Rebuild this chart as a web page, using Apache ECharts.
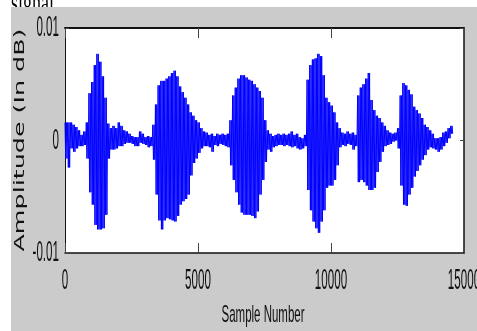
<!DOCTYPE html>
<html>
<head>
<meta charset="utf-8">
<script src="https://cdn.jsdelivr.net/npm/echarts@6/dist/echarts.min.js"></script>
<style>
  html, body { margin: 0; padding: 0; background: #fff; }
  #chart { width: 477px; height: 331px; }
</style>
</head>
<body>
<div id="chart"></div>
<script>
// envelope of the speech signal, every 100 samples (units of 1e-4)
const step = 100;
const upper = [16, 16, 16, 14, 12, 9, 5, 8, 16, 42, 52, 67, 77, 70, 57, 38, 15, 11, 13, 11,
  16, 13, 9, 8, 6, 4, 3, 3, 8, 6, 3, 4, 3, 14, 32, 49, 53, 53, 55, 57,
  60, 62, 57, 48, 43, 38, 32, 25, 22, 18, 16, 11, 8, 7, 5, 6, 4, 6, 5, 6,
  5, 6, 18, 40, 47, 55, 58, 58, 56, 54, 53, 50, 47, 44, 38, 18, 9, 6, 4, 5,
  6, 5, 6, 5, 6, 8, 5, 6, 3, 2, 5, 54, 67, 72, 73, 77, 75, 58, 38, 34,
  31, 25, 16, 11, 7, 6, 8, 6, 7, 5, 40, 47, 50, 55, 60, 36, 27, 22, 20, 16,
  13, 9, 7, 6, 7, 11, 40, 51, 49, 45, 41, 30, 27, 24, 20, 14, 12, 9, 6, 2,
  2, 3, 7, 8, 11, 13];
const lower = [-16, -24, -7, -10, -7, -5, -5, -4, -16, -46, -57, -75, -79, -79, -78, -66, -16, -8, -8, -7,
  -5, -5, -3, -2, -2, -3, -5, -5, -2, -3, -4, -6, -5, -17, -48, -71, -79, -71, -69, -70,
  -71, -72, -67, -57, -54, -52, -48, -31, -20, -16, -11, -7, -5, -5, -6, -10, -4, -5, -3, -4,
  -5, -6, -22, -35, -46, -57, -64, -66, -66, -66, -67, -69, -63, -48, -35, -19, -8, -10, -6, -5,
  -4, -4, -5, -4, -5, -6, -5, -7, -8, -7, -5, -44, -62, -72, -78, -82, -72, -62, -42, -40,
  -40, -35, -22, -6, -4, -5, -3, -4, -8, -5, -37, -35, -37, -40, -44, -44, -42, -28, -19, -10,
  -5, -4, -3, -1, 0, -7, -40, -57, -58, -48, -42, -32, -27, -22, -17, -13, -8, -6, -7, -8,
  -10, -8, -5, -2, 2, 6];

const xTicks = [0, 5000, 10000, 15000];
const yTicks = [-0.01, 0, 0.01];
const yTickText = ['-0.01', '0', '0.01'];

// swing between the two envelope values twice per step so the trace fills in like the original
const wave = [];
upper.forEach((u, i) => {
  const x0 = i * step;
  wave.push([x0, u / 1e4]);
  wave.push([x0 + step / 4, lower[i] / 1e4]);
  wave.push([x0 + step / 2, u / 1e4]);
  wave.push([x0 + 3 * step / 4, lower[i] / 1e4]);
});

const narrow = '"Liberation Sans", "DejaVu Sans Condensed", sans-serif';

const bg = [
  {
    type: 'text', left: 11, top: -10, z: -20, scaleY: 1.6,
    style: { text: 'signal.', font: '18px "Liberation Serif", serif', fill: '#000' }
  },
  {
    type: 'rect', z: -10,
    shape: { x: 11, y: 7, width: 470, height: 330 },
    style: { fill: '#cbcbcb' }
  }
];

const axisCommon = {
  type: 'value',
  axisLabel: { show: false },
  splitLine: { show: false }
};

const option = {
  backgroundColor: '#fff',
  animation: false,
  grid: {
    left: 65, right: 13, top: 28, bottom: 78,
    show: true, backgroundColor: '#fff', borderWidth: 0
  },
  xAxis: [
    {
      ...axisCommon, min: 0, max: 15000, interval: 5000, position: 'bottom',
      axisLine: { show: true, onZero: false, lineStyle: { color: '#111', width: 1.5 } },
      axisTick: { show: true, inside: true, length: 10, lineStyle: { color: '#444' } }
    },
    {
      ...axisCommon, min: 0, max: 15000, interval: 5000, position: 'top',
      axisLine: { show: true, onZero: false, lineStyle: { color: '#111', width: 2 } },
      axisTick: { show: true, inside: true, length: 10, lineStyle: { color: '#444' } }
    }
  ],
  yAxis: [
    {
      ...axisCommon, min: -0.01, max: 0.01, interval: 0.01, position: 'left',
      axisLine: { show: true, onZero: false, lineStyle: { color: '#111', width: 1 } },
      axisTick: { show: true, inside: true, length: 4, lineStyle: { color: '#444' } }
    },
    {
      ...axisCommon, min: -0.01, max: 0.01, interval: 0.01, position: 'right',
      axisLine: { show: true, onZero: false, lineStyle: { color: '#111', width: 1.5 } },
      axisTick: { show: true, inside: true, length: 4, lineStyle: { color: '#444' } }
    }
  ],
  graphic: bg,
  series: [
    {
      type: 'line',
      data: wave,
      showSymbol: false,
      sampling: null,
      lineStyle: { color: '#0000ff', width: 1 },
      z: 1
    }
  ]
};

const chart = echarts.init(document.getElementById('chart'));
chart.setOption(option);

// tick labels and axis names, squeezed and stretched tall like the source figure
const labels = [];
xTicks.forEach(v => {
  const px = chart.convertToPixel({ xAxisIndex: 0 }, v);
  labels.push({
    type: 'text', x: px, y: 266, scaleX: 0.8, scaleY: 2, z: 10,
    style: { text: String(v), font: '14.5px ' + narrow, fill: '#111', textAlign: 'center', textVerticalAlign: 'top' }
  });
});
yTicks.forEach((v, i) => {
  const py = chart.convertToPixel({ yAxisIndex: 0 }, v);
  labels.push({
    type: 'text', x: 59, y: py, scaleX: 0.8, scaleY: 2, z: 10,
    style: { text: yTickText[i], font: '14.5px ' + narrow, fill: '#111', textAlign: 'right', textVerticalAlign: 'middle' }
  });
});
labels.push({
  type: 'text', x: 263, y: 304, scaleX: 0.82, scaleY: 1.7, z: 10,
  style: { text: 'Sample Number', font: '14px ' + narrow, fill: '#111', textAlign: 'center', textVerticalAlign: 'top' }
});
labels.push({
  type: 'text', x: 20, y: 140, rotation: Math.PI / 2, scaleX: 1.75, z: 10,
  style: { text: 'Amplitude (In dB)', font: '14.5px "DejaVu Sans", sans-serif', fill: '#111', textAlign: 'center', textVerticalAlign: 'middle' }
});

chart.setOption({ graphic: bg.concat(labels) });
window.addEventListener('resize', chart.resize);
</script>
</body>
</html>
